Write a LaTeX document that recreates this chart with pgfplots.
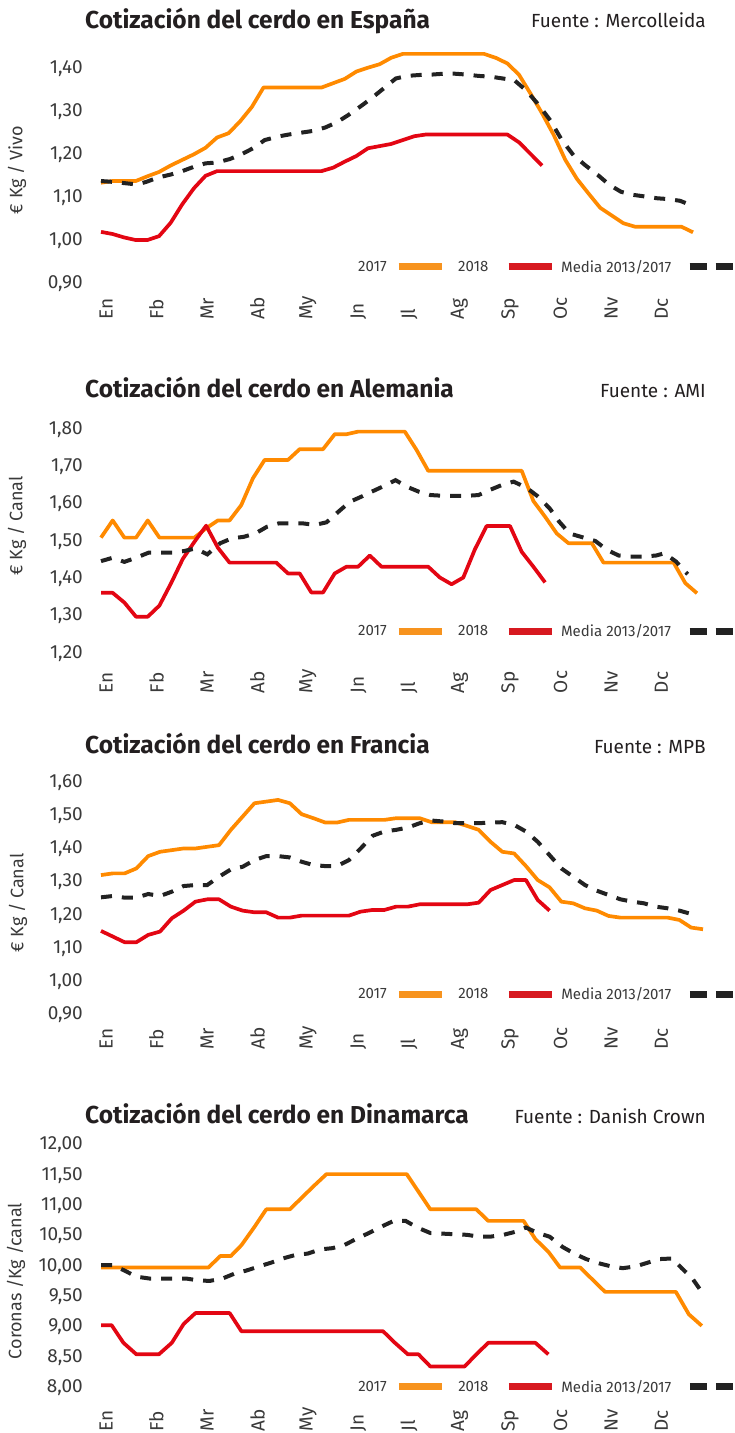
\documentclass[border=0pt]{standalone}
\usepackage{fontspec}
\setmainfont{Fira Sans}
\usepackage{pgfplots}
\pgfplotsset{compat=1.18}

\definecolor{c2017}{HTML}{FF8A00}
\definecolor{c2018}{HTML}{E30613}
\definecolor{cmed}{HTML}{222222}
\definecolor{l2017}{HTML}{F7931E}
\definecolor{l2018}{HTML}{D71920}
\definecolor{txt}{HTML}{3A3A3A}
\definecolor{ttl}{HTML}{231F20}

\pgfplotsset{
  cot/.style={
    scale only axis, clip=false,
    axis line style={draw=none}, major tick style={draw=none},
    tick pos=left,
    xmin=1, xmax=52,
    xticklabels={En,Fb,Mr,Ab,My,Jn,Jl,Ag,Sp,Oc,Nv,Dc},
    xticklabel style={rotate=90, anchor=west, inner sep=0pt, text=txt,
      font=\fontsize{19}{19}\selectfont},
    yticklabel style={anchor=east, inner sep=0pt, text=txt,
      font=\fontsize{19}{19}\selectfont},
    yticklabel shift=18pt,
    scaled y ticks=false,
    /pgf/number format/fixed,
    /pgf/number format/fixed zerofill,
    /pgf/number format/precision=2,
    /pgf/number format/use comma,
    /pgf/number format/assume math mode=true,
    legend columns=3,
    legend plot pos=right,
    legend style={draw=none, fill=none, anchor=west, inner sep=0pt,
      column sep=0pt, nodes={inner sep=0pt}, text=txt,
      font=\fontsize{15}{15}\selectfont},
  },
  v17/.style={c2017, line width=3.7pt, line join=round,
    legend image code/.code={\draw[line width=7pt, l2017] (0pt,0pt) -- (43pt,0pt);}},
  v18/.style={c2018, line width=3.7pt, line join=round,
    legend image code/.code={\draw[line width=7pt, l2018] (0pt,0pt) -- (43pt,0pt);}},
  vmed/.style={cmed, line width=4pt, dash pattern=on 11pt off 10pt,
    legend image code/.code={\draw[line width=7pt, cmed, dash pattern=on 17pt off 9pt] (0pt,0pt) -- (43pt,0pt);}},
}
\newcommand{\leyenda}{\legend{\makebox[37pt][l]{2017},
  \makebox[60pt][l]{\hspace{13pt}2018},
  \makebox[131pt][l]{\hspace{6pt}Media 2013/2017}}}

\begin{document}
\begin{tikzpicture}[font=\fontsize{18}{20}\selectfont]
\useasboundingbox (0pt,0pt) rectangle (735pt,-1433pt);

% ---------------- España
\begin{axis}[cot, at={(101pt,-284pt)}, anchor=south west,
  width=592pt, height=237pt, ymin=0.9, ymax=1.45, ytick={0.9,1.0,...,1.41},
  xtick={1.43,5.78,10.13,14.48,18.83,23.18,27.53,31.88,36.23,40.58,44.94,49.29},
  xticklabel shift=36pt,
  legend style={at={(0.434,0.072)}}]
\addplot[v17] coordinates {(1,1.135) (2,1.139) (4,1.139) (5,1.150) (6,1.160) (7,1.175) (8,1.188) (9,1.201) (10,1.216) (11,1.240) (12,1.250) (13,1.278) (14,1.311) (15,1.356) (20,1.356) (21,1.366) (22,1.376) (23,1.393) (24,1.402) (25,1.410) (26,1.425) (27,1.434) (34,1.434) (35,1.425) (36,1.412) (37,1.386) (38,1.342) (39,1.296) (40,1.246) (41,1.188) (42,1.144) (43,1.110) (44,1.077) (45,1.059) (46,1.041) (47,1.033) (51,1.033) (52,1.020)};
\addplot[v18] coordinates {(1,1.021) (2,1.016) (3,1.008) (4,1.002) (5,1.002) (6,1.011) (7,1.042) (8,1.085) (9,1.122) (10,1.151) (11,1.162) (20,1.162) (21,1.170) (22,1.184) (23,1.197) (24,1.215) (25,1.220) (26,1.225) (27,1.234) (28,1.243) (29,1.247) (36,1.247) (37,1.229) (38,1.202) (39,1.175)};
\addplot[vmed] coordinates {(1.0,1.139) (2.0,1.137) (4.1,1.131) (4.9,1.137) (5.9,1.147) (7.0,1.154) (8.0,1.162) (9.0,1.172) (10.0,1.180) (11.0,1.182) (12.1,1.190) (13.1,1.201) (14.1,1.215) (15.1,1.234) (16.2,1.242) (17.2,1.247) (18.2,1.251) (19.2,1.255) (20.3,1.263) (21.3,1.275) (22.3,1.292) (23.3,1.311) (24.3,1.331) (25.4,1.355) (26.4,1.377) (27.4,1.383) (28.4,1.385) (29.5,1.386) (30.5,1.388) (31.5,1.388) (32.5,1.386) (33.5,1.383) (34.6,1.381) (35.6,1.377) (36.6,1.373) (37.6,1.350) (38.6,1.319) (39.7,1.280) (40.7,1.234) (41.7,1.199) (42.7,1.176) (43.8,1.153) (44.8,1.130) (45.8,1.114) (46.8,1.107) (47.9,1.103) (48.9,1.099) (49.9,1.097) (50.9,1.093) (51.8,1.083)};
\leyenda
\end{axis}
\node[anchor=base west, inner sep=0pt, text=ttl] at (85pt,-28pt) {\fontsize{24.5}{25}\selectfont\bfseries Cotización del cerdo en España};
\node[anchor=base east, inner sep=0pt, text=ttl] at (706pt,-27pt) {\fontsize{19}{19}\selectfont Fuente : Mercolleida};
\node[rotate=90, inner sep=0pt, text=txt] at (17pt,-170pt) {€ Kg / Vivo};

% ---------------- Alemania
\begin{axis}[cot, at={(101pt,-653.3pt)}, anchor=south west,
  width=596pt, height=231.4pt, ymin=1.2, ymax=1.82, ytick={1.2,1.3,...,1.81},
  xtick={1.43,5.75,10.07,14.39,18.71,23.04,27.36,31.68,36.00,40.32,44.64,48.96},
  xticklabel shift=40pt,
  legend style={at={(0.431,0.096)}}]
\addplot[v17] coordinates {(1,1.510) (2,1.556) (3,1.510) (4,1.510) (5,1.556) (6,1.510) (9,1.510) (10,1.535) (11,1.556) (12,1.556) (13,1.597) (14,1.669) (15,1.718) (17,1.718) (18,1.747) (20,1.747) (21,1.787) (22,1.787) (23,1.794) (27,1.794) (28,1.745) (29,1.689) (37,1.689) (38,1.608) (39,1.566) (40,1.521) (41,1.495) (43,1.495) (44,1.443) (50,1.443) (51,1.388) (52,1.361)};
\addplot[v18] coordinates {(1,1.362) (2,1.362) (3,1.336) (4,1.298) (5,1.298) (6,1.328) (7,1.388) (8,1.453) (9,1.499) (10,1.542) (11,1.483) (12,1.443) (16,1.443) (17,1.414) (18,1.414) (19,1.363) (20,1.363) (21,1.414) (22,1.432) (23,1.432) (24,1.462) (25,1.432) (29,1.432) (30,1.403) (31,1.385) (32,1.403) (33,1.479) (34,1.541) (36,1.541) (37,1.472) (38,1.432) (39,1.390)};
\addplot[vmed] coordinates {(1.0,1.447) (2.0,1.456) (3.0,1.445) (4.0,1.456) (5.1,1.470) (6.1,1.470) (7.1,1.470) (8.1,1.474) (9.1,1.481) (10.1,1.465) (11.2,1.495) (12.2,1.508) (13.2,1.512) (14.2,1.521) (15.2,1.539) (16.2,1.548) (17.2,1.548) (18.3,1.548) (19.3,1.544) (20.3,1.551) (21.3,1.579) (22.3,1.606) (23.3,1.620) (24.3,1.635) (25.4,1.651) (26.2,1.664) (27.2,1.646) (28.2,1.633) (29.2,1.624) (30.3,1.622) (31.3,1.622) (32.3,1.622) (33.3,1.624) (34.3,1.638) (35.3,1.651) (36.3,1.660) (37.4,1.644) (38.4,1.620) (39.4,1.588) (40.2,1.553) (41.1,1.521) (42.3,1.510) (43.3,1.501) (44.3,1.477) (45.3,1.462) (46.3,1.459) (47.3,1.459) (48.5,1.462) (49.2,1.468) (50.2,1.446) (51.2,1.412)};
\leyenda
\end{axis}
\node[anchor=base west, inner sep=0pt, text=ttl] at (85pt,-397pt) {\fontsize{24.5}{25}\selectfont\bfseries Cotización del cerdo en Alemania};
\node[anchor=base east, inner sep=0pt, text=ttl] at (706pt,-397pt) {\fontsize{19}{19}\selectfont Fuente : AMI};
\node[rotate=90, inner sep=0pt, text=txt] at (17pt,-526pt) {€ Kg / Canal};

% ---------------- Francia
\begin{axis}[cot, at={(101pt,-1015pt)}, anchor=south west,
  width=602pt, height=232.7pt, ymin=0.9, ymax=1.6, ytick={0.9,1.0,...,1.61},
  xtick={1.42,5.70,9.98,14.26,18.54,22.81,27.09,31.37,35.65,39.93,44.21,48.48},
  xticklabel shift=35pt,
  legend style={at={(0.427,0.090)}}]
\addplot[v17] coordinates {(1,1.321) (2,1.326) (3,1.326) (4,1.341) (5,1.378) (6,1.391) (7,1.396) (8,1.401) (9,1.401) (10,1.406) (11,1.411) (12,1.457) (13,1.497) (14,1.537) (15,1.542) (16,1.547) (17,1.537) (18,1.504) (19,1.492) (20,1.479) (21,1.479) (22,1.487) (25,1.487) (26,1.492) (28,1.492) (29,1.480) (31,1.480) (32,1.469) (33,1.457) (34,1.421) (35,1.391) (36,1.386) (37,1.348) (38,1.306) (39,1.284) (40,1.241) (41,1.236) (42,1.221) (43,1.214) (44,1.198) (45,1.193) (49,1.193) (50,1.186) (51,1.163) (52,1.158)};
\addplot[v18] coordinates {(1,1.153) (2,1.136) (3,1.119) (4,1.119) (5,1.141) (6,1.151) (7,1.191) (8,1.214) (9,1.241) (10,1.248) (11,1.248) (12,1.226) (13,1.214) (14,1.209) (15,1.209) (16,1.193) (17,1.193) (18,1.199) (22,1.199) (23,1.211) (24,1.216) (25,1.216) (26,1.226) (27,1.226) (28,1.233) (32,1.233) (33,1.238) (34,1.276) (35,1.291) (36,1.306) (37,1.306) (38,1.246) (39,1.214)};
\addplot[vmed] coordinates {(1,1.254) (2,1.258) (3,1.253) (4,1.253) (5,1.264) (6,1.258) (7,1.271) (8,1.288) (9,1.291) (10,1.291) (11,1.316) (12,1.338) (13,1.346) (14,1.366) (15,1.378) (16,1.378) (17,1.374) (18,1.361) (19,1.351) (20,1.348) (21,1.348) (22,1.366) (23,1.401) (24,1.439) (25,1.452) (26,1.457) (27,1.464) (28,1.477) (29,1.485) (30,1.482) (31,1.477) (32,1.477) (33,1.477) (34,1.479) (35,1.480) (36,1.472) (37,1.452) (38,1.421) (39,1.381) (40,1.341) (41,1.316) (42,1.291) (43,1.274) (44,1.261) (45,1.248) (46,1.241) (47,1.236) (48,1.226) (49,1.221) (50,1.214) (51,1.204)};
\leyenda
\end{axis}
\node[anchor=base west, inner sep=0pt, text=ttl] at (85pt,-753pt) {\fontsize{24.5}{25}\selectfont\bfseries Cotización del cerdo en Francia};
\node[anchor=base east, inner sep=0pt, text=ttl] at (706pt,-753pt) {\fontsize{19}{19}\selectfont Fuente : MPB};
\node[rotate=90, inner sep=0pt, text=txt] at (18pt,-903pt) {€ Kg / Canal};

% ---------------- Dinamarca
\begin{axis}[cot, at={(101pt,-1387.7pt)}, anchor=south west,
  width=602pt, height=242.7pt, ymin=8, ymax=12, ytick={8,8.5,...,12.1},
  xtick={1.42,5.70,9.98,14.26,18.54,22.81,27.09,31.37,35.65,39.93,44.21,48.48},
  xticklabel shift=44pt,
  legend style={at={(0.427,0.003)}}]
\addplot[v17] coordinates {(1,9.98) (10.1,9.98) (11.1,10.17) (12,10.17) (12.9,10.35) (14,10.65) (15,10.94) (17,10.94) (18,11.13) (19,11.32) (20.1,11.52) (26.9,11.52) (27.9,11.23) (28.9,10.94) (32.8,10.94) (33.8,10.75) (36.8,10.75) (37.8,10.45) (38.9,10.24) (39.9,9.98) (41.6,9.98) (43.7,9.58) (49.7,9.58) (50.8,9.21) (51.9,9.02)};
\addplot[v18] coordinates {(1,9.03) (1.9,9.03) (2.9,8.74) (4,8.55) (5.9,8.55) (7,8.74) (8,9.05) (9,9.23) (11.9,9.23) (12.9,8.93) (24.9,8.93) (25.9,8.74) (27,8.55) (27.9,8.55) (28.9,8.35) (31.8,8.35) (32.8,8.55) (33.8,8.74) (37.8,8.74) (38.9,8.55)};
\addplot[vmed] coordinates {(1,10.02) (2,10.02) (3,9.93) (4,9.83) (5.1,9.80) (6.1,9.80) (7.1,9.80) (8.2,9.80) (9.2,9.77) (10.2,9.76) (11.3,9.80) (12.3,9.88) (13.3,9.93) (14.4,10.00) (15.4,10.06) (16.4,10.13) (17.5,10.19) (18.5,10.21) (19.6,10.28) (20.6,10.30) (21.6,10.35) (22.7,10.46) (23.7,10.55) (24.7,10.65) (25.8,10.75) (26.8,10.75) (27.8,10.64) (28.9,10.55) (29.9,10.54) (30.9,10.53) (32,10.52) (33,10.49) (34,10.49) (35.1,10.52) (36.1,10.57) (37,10.64) (38,10.55) (39,10.49) (40.1,10.32) (41.1,10.21) (42.1,10.12) (43.2,10.05) (44.2,10.00) (45.2,9.97) (46.3,10.00) (47.3,10.06) (48.3,10.12) (49.4,10.13) (50.2,9.97) (51.1,9.80) (52,9.55)};
\leyenda
\end{axis}
\node[anchor=base west, inner sep=0pt, text=ttl] at (85pt,-1123pt) {\fontsize{24.5}{25}\selectfont\bfseries Cotización del cerdo en Dinamarca};
\node[anchor=base east, inner sep=0pt, text=ttl] at (706pt,-1123pt) {\fontsize{19}{19}\selectfont Fuente : Danish Crown};
\node[rotate=90, inner sep=0pt, text=txt] at (16pt,-1281pt) {Coronas /Kg /canal};
\end{tikzpicture}
\end{document}
